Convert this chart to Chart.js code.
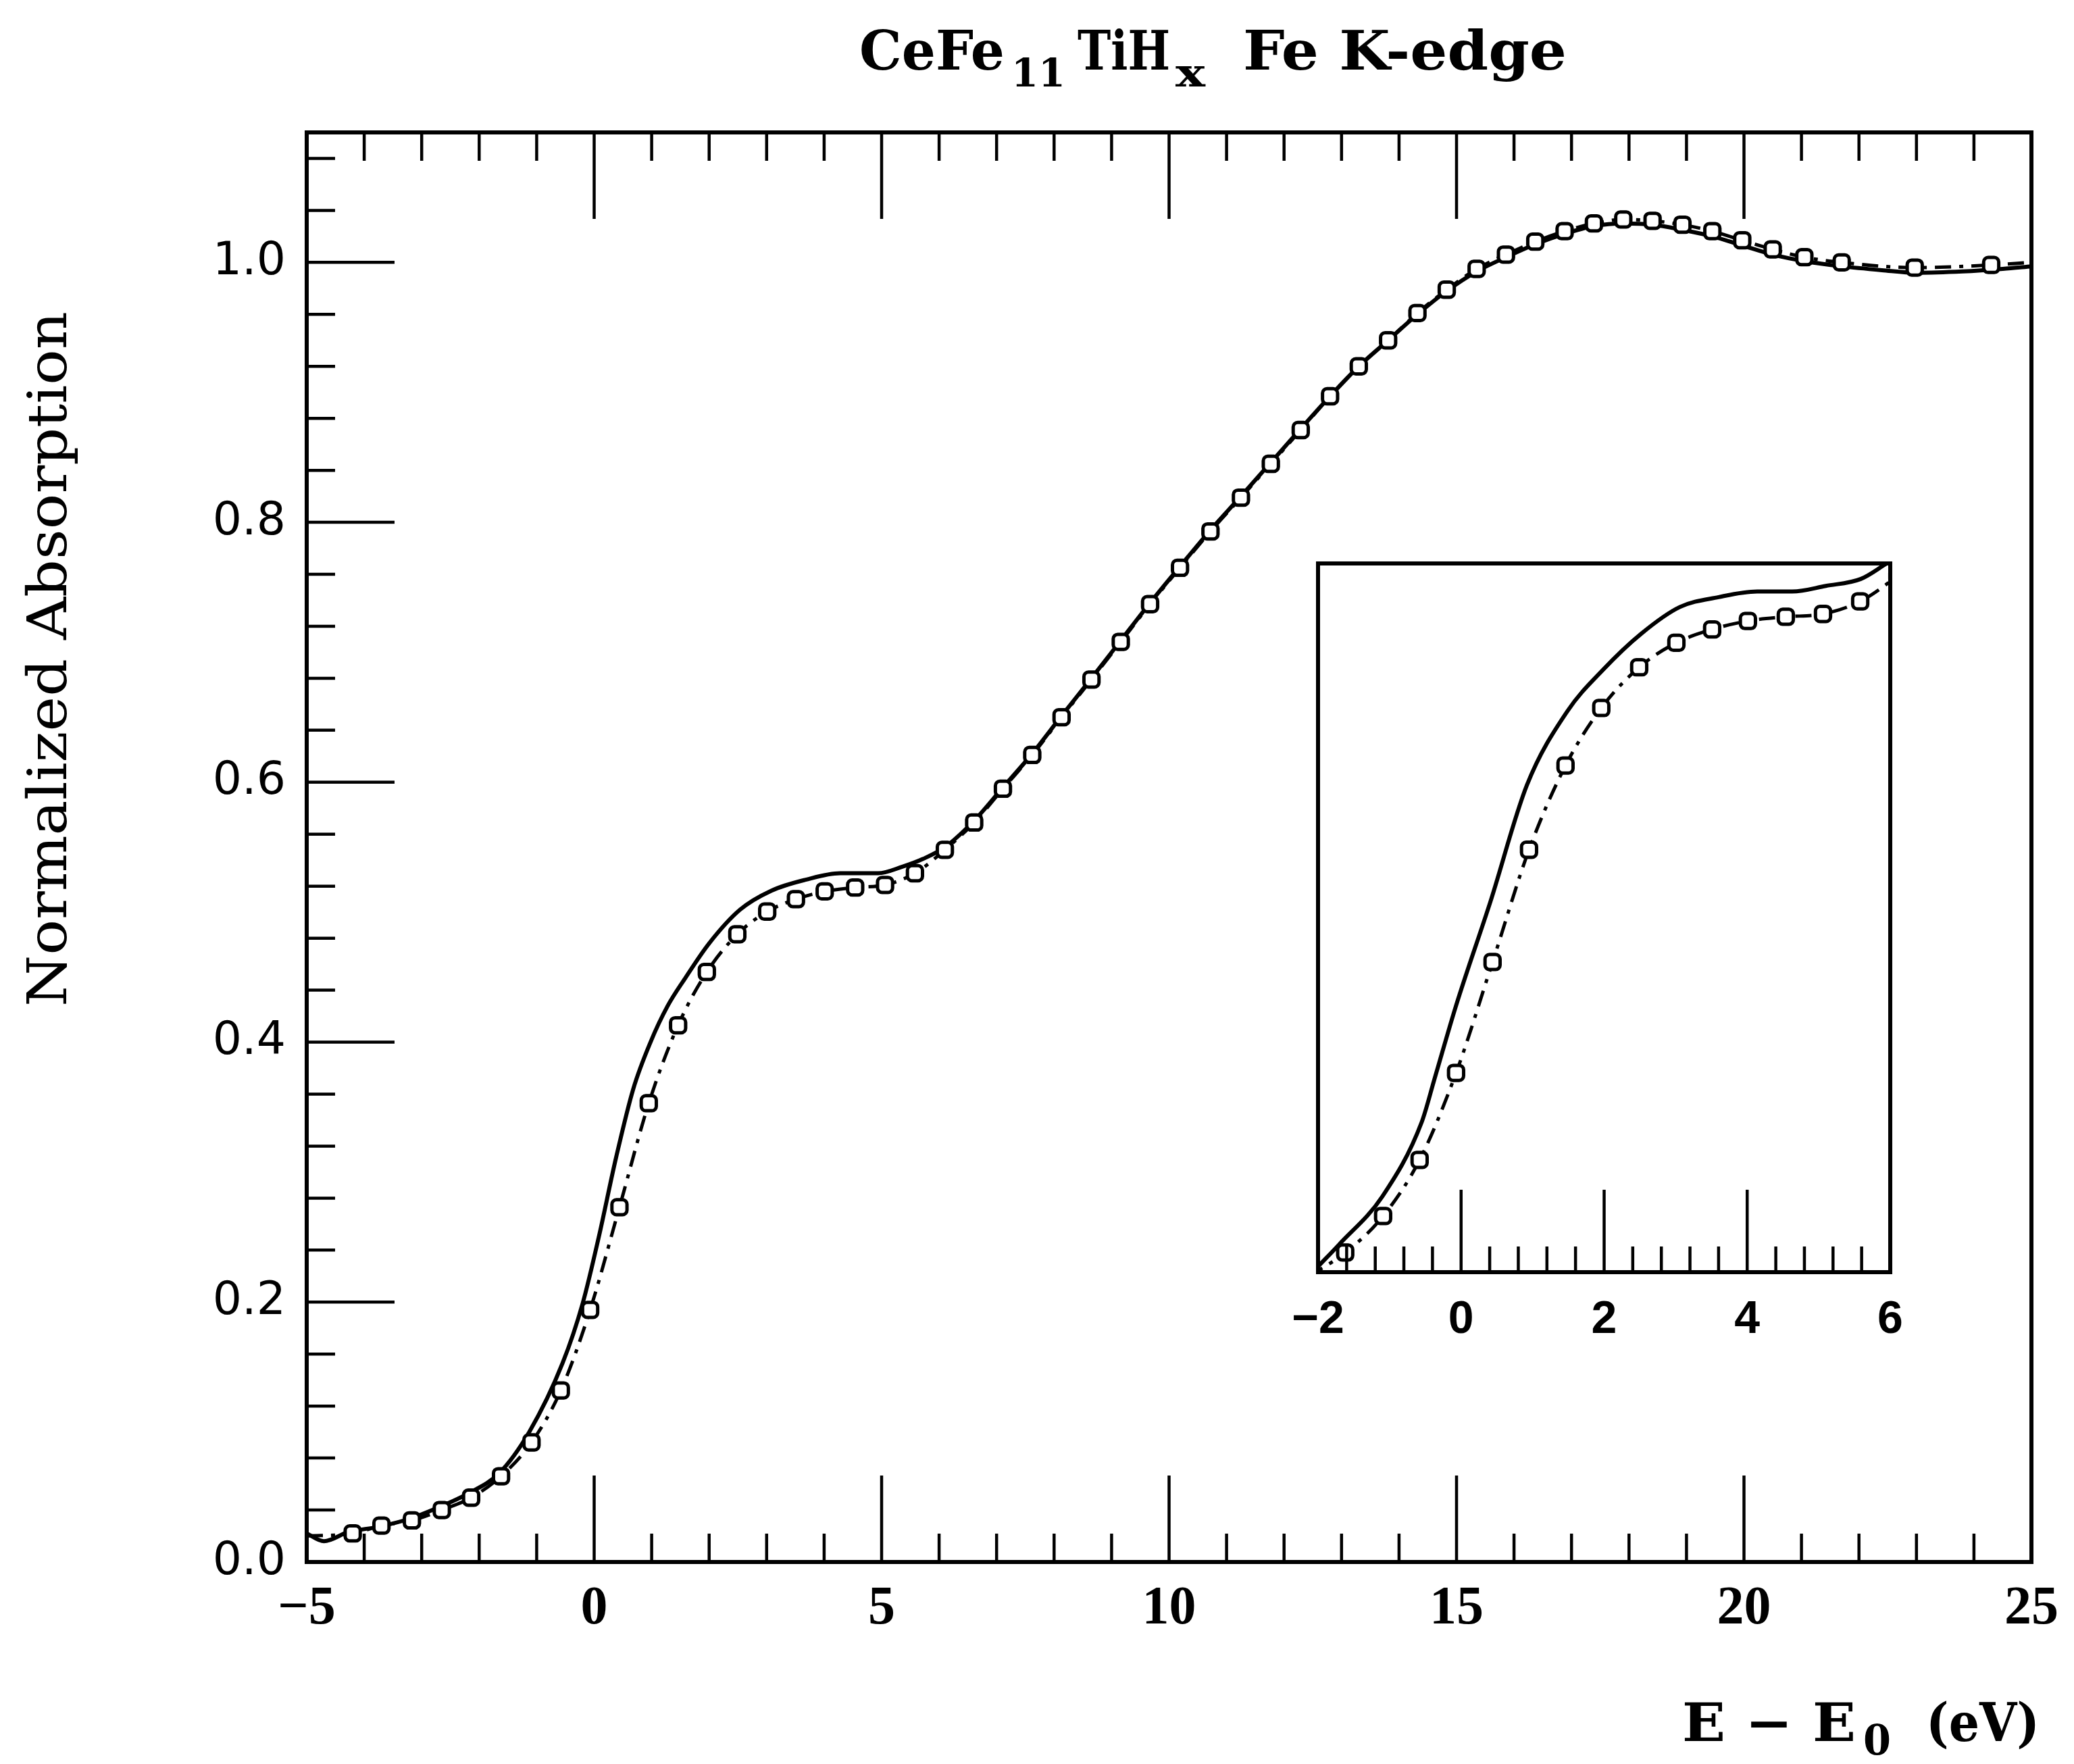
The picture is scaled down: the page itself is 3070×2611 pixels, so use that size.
<!DOCTYPE html>
<html>
<head>
<meta charset="utf-8">
<script src="https://cdn.jsdelivr.net/npm/chart.js@4.4.1/dist/chart.umd.min.js"></script>
<style>
  html, body { margin: 0; padding: 0; background: #fff; }
  #wrap { position: relative; width: 3070px; height: 2611px; background: #fff; }
  #main { position: absolute; left: 0; top: 0; width: 3070px; height: 2611px; }
  #inset { position: absolute; left: 1850px; top: 800px; width: 1050px; height: 1250px; }
</style>
</head>
<body>
<div id="wrap">
  <canvas id="main" width="3070" height="2611"></canvas>
  <canvas id="inset" width="1050" height="1250"></canvas>
</div>
<script>
// ---------------- DATA ----------------
// Solid curve, main panel: energy E - E0 (eV) and normalized absorption
const solidE = [-5.0, -4.7, -4.28, -3.76, -3.23, -2.71, -2.18, -1.66, -1.13, -0.55, -0.2, 0.08, 0.38, 0.68, 0.98,
  1.28, 1.58, 2.0, 2.54, 3.08, 3.68, 4.28, 4.94, 5.36, 5.72, 6.1, 6.6, 7.11, 7.62, 8.13, 8.65, 9.16, 9.67,
  10.19, 10.72, 11.25, 11.77, 12.29, 12.8, 13.3, 13.81, 14.32, 14.83, 15.35, 15.86, 16.37, 16.88, 17.39,
  17.9, 18.41, 18.93, 19.45, 19.97, 20.5, 21.05, 21.7, 22.4, 23.0, 23.8, 24.5, 25.0];
const solidV = [0.022, 0.016, 0.023, 0.027, 0.033, 0.042, 0.053, 0.068, 0.100, 0.153, 0.199, 0.250, 0.311, 0.364, 0.400,
  0.428, 0.449, 0.476, 0.502, 0.5165, 0.525, 0.530, 0.530, 0.535, 0.541, 0.550, 0.570, 0.596, 0.622, 0.651, 0.680, 0.709, 0.738,
  0.766, 0.794, 0.820, 0.846, 0.872, 0.897, 0.920, 0.940, 0.960, 0.978, 0.993, 1.004, 1.014, 1.022, 1.028,
  1.030, 1.029, 1.025, 1.020, 1.013, 1.006, 1.001, 0.997, 0.994, 0.992, 0.993, 0.995, 0.997];

// Measured points (open markers joined by the dash-dot line)
const ptsE = [-4.2, -3.7, -3.17, -2.65, -2.14, -1.62, -1.09, -0.58, -0.07, 0.44, 0.95, 1.46, 1.96, 2.49, 3.01, 3.51,
  4.01, 4.54, 5.06, 5.58, 6.10, 6.61, 7.11, 7.62, 8.13, 8.65, 9.16, 9.67, 10.19, 10.72, 11.25, 11.77, 12.29,
  12.80, 13.30, 13.81, 14.32, 14.83, 15.35, 15.86, 16.37, 16.88, 17.39, 17.90, 18.41, 18.93, 19.45, 19.97,
  20.50, 21.05, 21.70, 22.97, 24.30];
const ptsV = [0.022, 0.028, 0.032, 0.040, 0.0495, 0.066, 0.092, 0.132, 0.194, 0.273, 0.353, 0.413, 0.454, 0.483, 0.5005, 0.510,
  0.516, 0.519, 0.521, 0.530, 0.548, 0.569, 0.595, 0.621, 0.650, 0.679, 0.708, 0.737, 0.765, 0.793, 0.819, 0.845, 0.871,
  0.897, 0.920, 0.940, 0.961, 0.979, 0.995, 1.006, 1.016, 1.024, 1.030, 1.033, 1.032, 1.029, 1.024, 1.017,
  1.010, 1.004, 1.000, 0.996, 0.998];

// Ends of the dash-dot line (beyond the first / last marker)
const dashEndE = [-5.0, 25.0];
const dashEndV = [0.020, 1.000];

// Inset: solid curve as drawn in the inset
const insetSolidE = [-2.0, -1.70, -1.10, -0.55, -0.37, -0.07, 0.41, 0.92, 1.49, 1.98, 2.52, 3.06, 3.60, 4.14, 4.63, 5.10, 5.59, 5.95];
const insetSolidV = [0.056, 0.072, 0.106, 0.159, 0.190, 0.242, 0.316, 0.399, 0.452, 0.481, 0.507, 0.526, 0.533, 0.537, 0.537, 0.541, 0.546, 0.557];

// Axis ranges
const mainXRange = [-5, 25];
const mainYRange = [0, 1.1];
const insetXRange = [-2, 6];
const insetYRange = [0.052, 0.557];

// Texts
const titleParts = ['CeFe', '11', 'TiH', 'x', 'Fe K-edge'];
const xTitleParts = ['E \u2212 E', '0', '(eV)'];
const yTitleText = 'Normalized Absorption';

// ---------------- helpers ----------------
const toXY = (xs, ys) => xs.map((x, i) => ({ x: x, y: ys[i] }));
const dashData = [{ x: dashEndE[0], y: dashEndV[0] }].concat(toXY(ptsE, ptsV), [{ x: dashEndE[1], y: dashEndV[1] }]);
const SERIF = "'DejaVu Serif', 'Liberation Serif', serif";

function fitText(ctx, text, x, y, font, targetW) {
  ctx.font = font;
  const w = ctx.measureText(text).width;
  ctx.save();
  ctx.translate(x, y);
  ctx.scale(targetW / w, 1);
  ctx.fillText(text, 0, 0);
  ctx.restore();
}
function seg(ctx, x1, y1, x2, y2) { ctx.beginPath(); ctx.moveTo(x1, y1); ctx.lineTo(x2, y2); ctx.stroke(); }

// ---------------- main panel decorations: frame, inward ticks, titles ----------------
const mainDeco = {
  id: 'mainDeco',
  afterDraw(chart) {
    const ctx = chart.ctx, a = chart.chartArea, xs = chart.scales.x, ys = chart.scales.y;
    ctx.save();
    ctx.strokeStyle = '#000';
    ctx.fillStyle = '#000';
    ctx.lineCap = 'butt';
    ctx.lineWidth = 4.5;
    for (let v = mainXRange[0]; v <= mainXRange[1]; v += 1) {
      const px = xs.getPixelForValue(v);
      const len = (v % 5 === 0) ? 128 : 42;
      if (v !== mainXRange[0] && v !== mainXRange[1]) {
        seg(ctx, px, a.bottom, px, a.bottom - len);
        seg(ctx, px, a.top, px, a.top + len);
      }
    }
    for (let i = 1; i <= 27; i++) {
      const py = ys.getPixelForValue(i * 0.04);
      const len = (i % 5 === 0) ? 130 : 42;
      seg(ctx, a.left, py, a.left + len, py);
    }
    ctx.lineWidth = 6;
    ctx.strokeRect(a.left, a.top, a.right - a.left, a.bottom - a.top);

    // title with subscripts
    ctx.textAlign = 'left';
    ctx.textBaseline = 'alphabetic';
    const TB = '600 80px ' + SERIF, TS = '600 58px ' + SERIF;
    fitText(ctx, titleParts[0], 1272, 103, TB, 215);
    fitText(ctx, titleParts[1], 1497, 128, TS, 80);
    fitText(ctx, titleParts[2], 1595, 103, TB, 137);
    fitText(ctx, titleParts[3], 1740, 128, TS, 44);
    fitText(ctx, titleParts[4], 1840, 103, TB, 479);

    // x axis title
    fitText(ctx, xTitleParts[0], 2490, 2577, 'bold 78px ' + SERIF, 257);
    fitText(ctx, xTitleParts[1], 2758, 2597, 'bold 62px ' + SERIF, 41);
    fitText(ctx, xTitleParts[2], 2851, 2577, 'bold 78px ' + SERIF, 168);

    // y axis title (rotated)
    ctx.save();
    ctx.translate(98, 1490);
    ctx.rotate(-Math.PI / 2);
    fitText(ctx, yTitleText, 0, 0, '80px ' + SERIF, 1029);
    ctx.restore();
    ctx.restore();
  }
};

const insetDeco = {
  id: 'insetDeco',
  afterDraw(chart) {
    const ctx = chart.ctx, a = chart.chartArea, xs = chart.scales.x;
    ctx.save();
    ctx.strokeStyle = '#000';
    ctx.lineWidth = 4.5;
    for (let i = 1; i < 20; i++) {
      const v = insetXRange[0] + i * 0.4;
      const px = xs.getPixelForValue(v);
      const len = (i % 5 === 0) ? 122 : 38;
      seg(ctx, px, a.bottom, px, a.bottom - len);
    }
    ctx.lineWidth = 6;
    ctx.strokeRect(a.left, a.top, a.right - a.left, a.bottom - a.top);
    ctx.restore();
  }
};

const whiteBg = {
  id: 'whiteBg',
  beforeDraw(chart) {
    const ctx = chart.ctx;
    ctx.save(); ctx.fillStyle = '#fff'; ctx.fillRect(0, 0, chart.width, chart.height); ctx.restore();
  }
};

function datasets(solidData) {
  return [
    { label: 'measured', data: toXY(ptsE, ptsV), showLine: false,
      pointStyle: 'rectRounded', pointRadius: 13, pointBorderWidth: 5,
      pointBorderColor: '#000', pointBackgroundColor: '#fff' },
    { label: 'dash-dot', data: dashData, showLine: true, borderColor: '#000', borderWidth: 5,
      borderDash: [24, 12, 6, 12], pointRadius: 0, cubicInterpolationMode: 'monotone' },
    { label: 'solid', data: solidData, showLine: true, borderColor: '#000', borderWidth: 6,
      pointRadius: 0, cubicInterpolationMode: 'monotone' }
  ];
}

const minusFmt = v => (v < 0 ? '\u2212' + Math.abs(v) : String(v));

new Chart(document.getElementById('main'), {
  type: 'scatter',
  data: { datasets: datasets(toXY(solidE, solidV)) },
  options: {
    responsive: false, animation: false, devicePixelRatio: 1,
    layout: { padding: { left: 0, top: 196, right: 63, bottom: 0 } },
    plugins: { legend: { display: false }, tooltip: { enabled: false }, title: { display: false } },
    scales: {
      x: {
        type: 'linear', position: 'bottom', min: mainXRange[0], max: mainXRange[1],
        grid: { display: false, drawTicks: false }, border: { display: false },
        ticks: { stepSize: 5, autoSkip: false, maxRotation: 0, padding: 22, color: '#000',
          font: { family: "'Liberation Serif', serif", size: 80, weight: 'bold' }, callback: minusFmt },
        afterFit: s => { s.height = 299; }
      },
      y: {
        type: 'linear', position: 'left', min: mainYRange[0], max: mainYRange[1],
        grid: { display: false, drawTicks: false }, border: { display: false },
        ticks: { stepSize: 0.2, includeBounds: false, autoSkip: false, padding: 31, color: '#000',
          font: { family: "'DejaVu Sans', sans-serif", size: 68 }, callback: v => v.toFixed(1) },
        afterFit: s => { s.width = 454; }
      }
    }
  },
  plugins: [whiteBg, mainDeco]
});

new Chart(document.getElementById('inset'), {
  type: 'scatter',
  data: { datasets: datasets(toXY(insetSolidE, insetSolidV)) },
  options: {
    responsive: false, animation: false, devicePixelRatio: 1,
    layout: { padding: { left: 101, top: 34, right: 102, bottom: 0 } },
    plugins: { legend: { display: false }, tooltip: { enabled: false }, title: { display: false } },
    scales: {
      x: {
        type: 'linear', position: 'bottom', min: insetXRange[0], max: insetXRange[1],
        grid: { display: false, drawTicks: false }, border: { display: false },
        ticks: { stepSize: 2, autoSkip: false, maxRotation: 0, padding: 30, color: '#000',
          font: { family: "'Liberation Sans Narrow', 'Liberation Sans', sans-serif", size: 68, weight: 'bold' },
          callback: minusFmt },
        afterFit: s => { s.height = 167; }
      },
      y: { type: 'linear', display: false, min: insetYRange[0], max: insetYRange[1] }
    }
  },
  plugins: [whiteBg, insetDeco]
});
</script>
</body>
</html>
